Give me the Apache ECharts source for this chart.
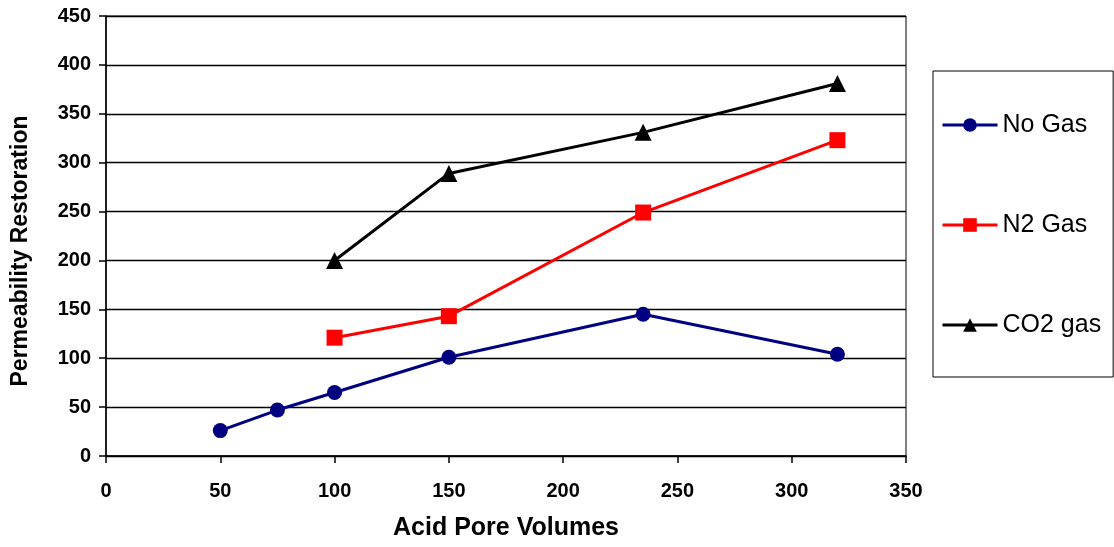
<!DOCTYPE html>
<html>
<head>
<meta charset="utf-8">
<script src="https://cdn.jsdelivr.net/npm/echarts@6/dist/echarts.min.js"></script>
<style>
  html, body { margin: 0; padding: 0; background: #fff; }
  #chart { width: 1114px; height: 547px; }
</style>
</head>
<body>
<div id="chart"></div>
<script>
// data
const seriesNames = ['No Gas', 'N2 Gas', 'CO2 gas'];
const noGasX = [50, 75, 100, 150, 235, 320];
const noGasY = [26, 47, 65, 101, 145, 104];
const n2GasX = [100, 150, 235, 320];
const n2GasY = [121, 143, 249, 323];
const co2GasX = [100, 150, 235, 320];
const co2GasY = [200, 289, 331, 381];

const pairs = (xs, ys) => xs.map((x, i) => [x, ys[i]]);

const chart = echarts.init(document.getElementById('chart'));

const font = 'Liberation Sans, Arial, sans-serif';
const axisText = {
  color: '#000',
  fontFamily: font,
  fontWeight: 'bold',
  fontSize: 20
};

const option = {
  backgroundColor: '#fff',
  animation: false,
  grid: {
    left: 106,
    right: 208,
    top: 16,
    bottom: 91,
    show: true,
    borderColor: '#000',
    borderWidth: 1
  },
  legend: {
    data: seriesNames,
    orient: 'vertical',
    left: 933,
    top: 71,
    padding: [39, 12, 37, 8],
    itemWidth: 55,
    itemHeight: 17,
    itemGap: 70,
    borderColor: '#000',
    borderWidth: 1,
    lineStyle: { width: 3 },
    textStyle: {
      color: '#000',
      fontFamily: font,
      fontSize: 25,
      lineHeight: 30
    }
  },
  xAxis: {
    type: 'value',
    min: 0,
    max: 350,
    interval: 50,
    name: 'Acid Pore Volumes',
    nameLocation: 'middle',
    nameGap: 60,
    nameTextStyle: { ...axisText, fontSize: 25 },
    axisLine: { show: true, lineStyle: { color: '#000', width: 1.5 } },
    axisTick: { show: true, length: 7, lineStyle: { color: '#000', width: 1.5 } },
    axisLabel: { ...axisText, margin: 25 },
    splitLine: { show: false }
  },
  yAxis: {
    type: 'value',
    min: 0,
    max: 450,
    interval: 50,
    name: 'Permeability Restoration',
    nameLocation: 'middle',
    nameGap: 74,
    nameTextStyle: { ...axisText, fontSize: 23, padding: [0, 30, 0, 0] },
    axisLine: { show: true, lineStyle: { color: '#000', width: 1.5 } },
    axisTick: { show: true, length: 7, lineStyle: { color: '#000', width: 1.5 } },
    axisLabel: { ...axisText, margin: 15 },
    splitLine: { show: true, lineStyle: { color: '#000', width: 1.4 } }
  },
  series: [
    {
      name: 'No Gas',
      type: 'line',
      symbol: 'circle',
      symbolSize: 15,
      itemStyle: { color: '#000080' },
      lineStyle: { color: '#000080', width: 3 },
      data: pairs(noGasX, noGasY)
    },
    {
      name: 'N2 Gas',
      type: 'line',
      symbol: 'rect',
      symbolSize: 16,
      itemStyle: { color: '#ff0000' },
      lineStyle: { color: '#ff0000', width: 3 },
      data: pairs(n2GasX, n2GasY)
    },
    {
      name: 'CO2 gas',
      type: 'line',
      symbol: 'triangle',
      symbolSize: 17,
      itemStyle: { color: '#000' },
      lineStyle: { color: '#000', width: 3 },
      data: pairs(co2GasX, co2GasY)
    }
  ]
};

chart.setOption(option);
</script>
</body>
</html>
